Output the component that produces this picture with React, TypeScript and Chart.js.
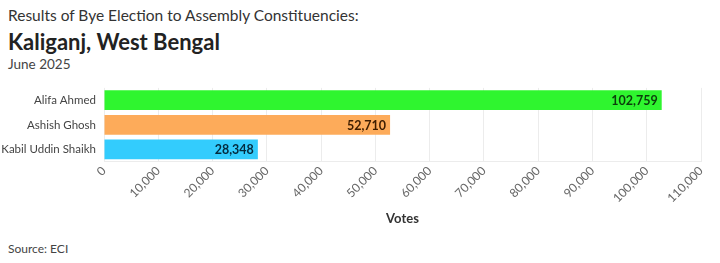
import React, { useEffect, useRef } from "react";
import { Chart, registerables } from "chart.js";

Chart.register(...registerables);

const candidates = ["Alifa Ahmed", "Ashish Ghosh", "Kabil Uddin Shaikh"];
const votes = [102759, 52710, 28348];
const barColors = ["#2ff52f", "#fdab5a", "#33ccfd"];
const labelColors = ["#0c3d0c", "#3d1d00", "#042a3d"];
const xMax = 110000;
const xStep = 10000;

const FONT = "Lato, 'Open Sans', sans-serif";

const barValueLabels = {
  id: "barValueLabels",
  afterDatasetsDraw(chart: any) {
    const { ctx } = chart;
    const meta = chart.getDatasetMeta(0);
    ctx.save();
    ctx.font = `bold 12.5px ${FONT}`;
    ctx.textAlign = "right";
    ctx.textBaseline = "middle";
    meta.data.forEach((bar: any, i: number) => {
      ctx.fillStyle = labelColors[i];
      ctx.fillText(votes[i].toLocaleString("en-US"), bar.x - 4, bar.y + 1);
    });
    ctx.restore();
  },
};

function BarChart() {
  const ref = useRef<HTMLCanvasElement | null>(null);
  useEffect(() => {
    if (!ref.current) return;
    const chart = new Chart(ref.current, {
      type: "bar",
      data: {
        labels: candidates,
        datasets: [
          {
            data: votes,
            backgroundColor: barColors,
            borderWidth: 0,
            barPercentage: 0.8,
            categoryPercentage: 1,
          },
        ],
      },
      options: {
        indexAxis: "y",
        animation: false,
        responsive: false,
        maintainAspectRatio: false,
        layout: { padding: { top: 0, right: 19, left: 0, bottom: 3 } },
        plugins: { legend: { display: false }, tooltip: { enabled: false } },
        scales: {
          x: {
            min: 0,
            max: xMax,
            ticks: {
              stepSize: xStep,
              maxRotation: 45,
              minRotation: 45,
              color: "#666",
              font: { family: FONT, size: 12 },
              padding: 2,
              callback: (v: any) => Number(v).toLocaleString("en-US"),
            },
            grid: { color: "#ececec", drawTicks: false },
            border: { color: "#ececec" },
            title: {
              display: true,
              text: "Votes",
              color: "#333",
              font: { family: FONT, size: 13, weight: "bold" },
              padding: { top: 4, bottom: 0 },
            },
          },
          y: {
            ticks: {
              color: "#444",
              font: { family: FONT, size: 11.5 },
              padding: 8,
            },
            grid: { display: false, drawTicks: false },
            border: { display: false },
            afterFit: (scale: any) => {
              scale.width = 104;
            },
          },
        },
      },
      plugins: [barValueLabels],
    });
    return () => chart.destroy();
  }, []);
  return <canvas ref={ref} width={720} height={157} style={{ display: "block" }} />;
}

export default function App() {
  return (
    <div
      style={{
        position: "fixed",
        left: 0,
        top: 0,
        width: 720,
        height: 263,
        background: "#fff",
        fontFamily: FONT,
        overflow: "hidden",
      }}
    >
      <div style={{ position: "absolute", left: 8, top: 6, fontSize: 15.5, color: "#333", whiteSpace: "nowrap" }}>
        Results of Bye Election to Assembly Constituencies:
      </div>
      <div style={{ position: "absolute", left: 8, top: 28, fontSize: 22, fontWeight: "bold", color: "#222", whiteSpace: "nowrap" }}>
        Kaliganj, West Bengal
      </div>
      <div style={{ position: "absolute", left: 8, top: 56, fontSize: 13.5, color: "#444", whiteSpace: "nowrap" }}>
        June 2025
      </div>
      <div style={{ position: "absolute", left: 0, top: 73 }}>
        <BarChart />
      </div>
      <div style={{ position: "absolute", left: 8, top: 241, fontSize: 12, color: "#444", whiteSpace: "nowrap" }}>
        Source: ECI
      </div>
    </div>
  );
}
